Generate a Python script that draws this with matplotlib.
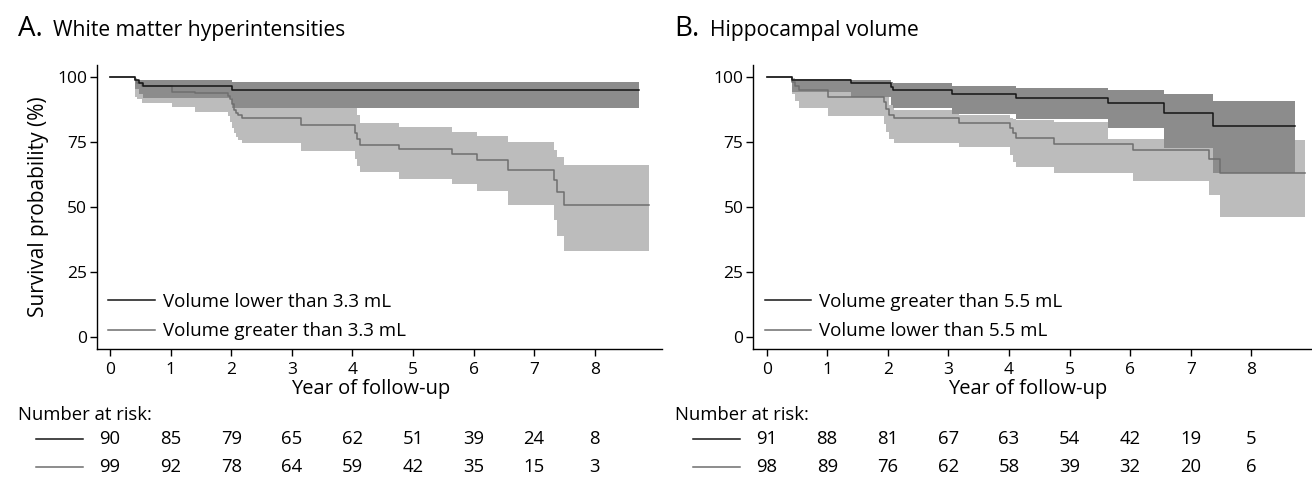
import numpy as np
import matplotlib
matplotlib.use("Agg")
import matplotlib.pyplot as plt
from matplotlib.lines import Line2D
from matplotlib.transforms import blended_transform_factory

plt.rcParams['font.family'] = ['Open Sans', 'DejaVu Sans']

# ---- Panel A: white matter hyperintensities ----
a1_t = [0, 0.42, 0.47, 0.55, 2.02, 8.73]
a1_s = [100, 98.9, 97.8, 96.7, 95.3, 95.3]
a1_hi = [100, 99.0, 99.0, 99.0, 98.2, 98.2]
a1_lo = [100, 95.5, 93.8, 92.0, 88.4, 88.4]

a2_t = [0, 0.41, 0.45, 0.52, 1.02, 1.40, 1.95, 1.98, 2.01, 2.04, 2.08, 2.12, 2.17,
        3.16, 4.04, 4.08, 4.12, 4.77, 5.65, 6.06, 6.57, 7.32, 7.38, 7.49, 8.89]
a2_s = [100, 99.0, 97.9, 96.8, 94.5, 93.9, 92.8, 91.7, 89.6, 87.5, 86.4, 85.4, 84.3,
        81.7, 78.5, 76.3, 74.0, 72.4, 70.5, 68.2, 64.4, 60.5, 55.8, 50.9, 50.9]
a2_hi = [100, 99.6, 99.2, 98.8, 98.3, 97.9, 97.3, 96.5, 95.2, 93.8, 92.5, 91.5, 90.6,
         89.4, 88.1, 85.5, 82.4, 81.0, 79.1, 77.6, 75.3, 72.1, 69.5, 66.3, 66.3]
a2_lo = [100, 92.6, 91.7, 90.3, 88.5, 86.8, 85.0, 83.0, 80.5, 78.5, 77.2, 76.0, 74.6,
         71.7, 68.5, 66.0, 63.7, 60.8, 58.8, 56.3, 50.9, 45.1, 38.7, 32.9, 32.9]

a_labels = ['Volume lower than 3.3 mL', 'Volume greater than 3.3 mL']
a_risk1 = [90, 85, 79, 65, 62, 51, 39, 24, 8]
a_risk2 = [99, 92, 78, 64, 59, 42, 35, 15, 3]

# ---- Panel B: hippocampal volume ----
b1_t = [0, 0.42, 1.40, 2.05, 2.09, 3.06, 4.11, 5.63, 6.56, 7.37, 8.72]
b1_s = [100, 99.0, 97.8, 96.5, 95.2, 93.6, 92.0, 90.3, 86.4, 81.3, 81.3]
b1_hi = [100, 99.4, 99.0, 98.2, 97.8, 96.8, 96.0, 95.2, 93.5, 91.1, 91.1]
b1_lo = [100, 94.5, 92.5, 89.5, 88.1, 85.9, 83.8, 80.7, 72.7, 63.1, 63.1]

b2_t = [0, 0.42, 0.47, 0.53, 1.02, 1.93, 1.97, 2.02, 2.10, 3.17, 4.02, 4.06, 4.12,
        4.75, 5.63, 6.04, 7.30, 7.48, 8.88]
b2_s = [100, 98.4, 96.8, 95.2, 92.6, 90.5, 88.0, 85.5, 84.3, 82.6, 80.5, 78.5, 76.6,
        74.5, 74.5, 72.1, 68.5, 63.3, 63.3]
b2_hi = [100, 99.6, 99.0, 98.3, 96.8, 95.0, 93.0, 89.5, 87.5, 85.5, 84.5, 84.0, 83.6,
         83.0, 76.3, 76.3, 76.0, 75.9, 75.9]
b2_lo = [100, 93.5, 91.0, 88.4, 85.3, 82.0, 79.0, 76.3, 74.6, 73.3, 70.0, 67.5, 65.6,
         63.1, 63.1, 60.1, 54.5, 46.1, 46.1]

b_labels = ['Volume greater than 5.5 mL', 'Volume lower than 5.5 mL']
b_risk1 = [91, 88, 81, 67, 63, 54, 42, 19, 5]
b_risk2 = [98, 89, 76, 62, 58, 39, 32, 20, 6]

years = list(range(9))

DARK_BAND = '#8c8c8c'
LIGHT_BAND = '#bcbcbc'
LINE1 = '#151515'
LINE2 = '#6e6e6e'

W, H = 1312, 478
fig = plt.figure(figsize=(W / 100, H / 100), dpi=100)


def px_box(left, top, right, bottom):
    return [left / W, 1 - bottom / H, (right - left) / W, (bottom - top) / H]


def km_panel(ax, g1, g2, labels, ylabel):
    t1, s1, hi1, lo1 = g1
    t2, s2, hi2, lo2 = g2
    ax.fill_between(t2, lo2, hi2, step='post', color=LIGHT_BAND, lw=0, zorder=1)
    ax.fill_between(t1, lo1, hi1, step='post', color=DARK_BAND, lw=0, zorder=2)
    ax.step(t2, s2, where='post', color=LINE2, lw=1.1, zorder=3, label=labels[1])
    ax.step(t1, s1, where='post', color=LINE1, lw=1.1, zorder=4, label=labels[0])
    ax.set_xlim(-0.22, 9.11)
    ax.set_ylim(-4.7, 104.8)
    ax.set_xticks(years)
    ax.set_yticks([0, 25, 50, 75, 100])
    for s in ['top', 'right']:
        ax.spines[s].set_visible(False)
    for s in ['left', 'bottom']:
        ax.spines[s].set_linewidth(1.0)
    ax.tick_params(axis='x', length=5, width=1.0, pad=4, labelsize=12.5)
    ax.tick_params(axis='y', length=5, width=1.0, pad=2, labelsize=12.5)
    ax.set_xlabel('Year of follow-up', fontsize=14.5, labelpad=1)
    ax.xaxis.set_label_coords(0.485, -0.105)
    if ylabel:
        ax.set_ylabel(ylabel, fontsize=15, labelpad=6)
    h, l = ax.get_legend_handles_labels()
    ax.legend(h[::-1], l[::-1], loc='lower left', bbox_to_anchor=(0.02, 0.03),
              frameon=False, fontsize=13.5, handlelength=2.5, handletextpad=0.42,
              labelspacing=0.62, borderpad=0, borderaxespad=0)


def risk_table(ax, x0, r1, r2):
    tr = blended_transform_factory(ax.transData, fig.transFigure)
    fig.text(x0 / W, 1 - 420 / H, 'Number at risk:', fontsize=13.3, va='baseline')
    for yy, row, col in [(439, r1, LINE1), (467, r2, LINE2)]:
        fig.add_artist(Line2D([(x0 + 18) / W, (x0 + 65) / W], [1 - yy / H] * 2,
                              color=col, lw=1.1, transform=fig.transFigure))
        for t, n in zip(years, row):
            fig.text(t, 1 - yy / H, str(n), transform=tr, fontsize=13.3,
                     ha='center', va='center')


axA = fig.add_axes(px_box(96.7, 65, 662, 349))
km_panel(axA, (a1_t, a1_s, a1_hi, a1_lo), (a2_t, a2_s, a2_hi, a2_lo), a_labels,
         'Survival probability (%)')
axB = fig.add_axes(px_box(753.3, 65, 1318.6, 349))
km_panel(axB, (b1_t, b1_s, b1_hi, b1_lo), (b2_t, b2_s, b2_hi, b2_lo), b_labels, None)

fig.text(18 / W, 1 - 36 / H, 'A.', fontsize=20, va='baseline')
fig.text(53 / W, 1 - 36 / H, 'White matter hyperintensities', fontsize=15.2, va='baseline')
fig.text(674.6 / W, 1 - 36 / H, 'B.', fontsize=20, va='baseline')
fig.text(709.6 / W, 1 - 36 / H, 'Hippocampal volume', fontsize=15.2, va='baseline')

risk_table(axA, 18, a_risk1, a_risk2)
risk_table(axB, 674.6, b_risk1, b_risk2)

fig.savefig('out.png', dpi=100)
